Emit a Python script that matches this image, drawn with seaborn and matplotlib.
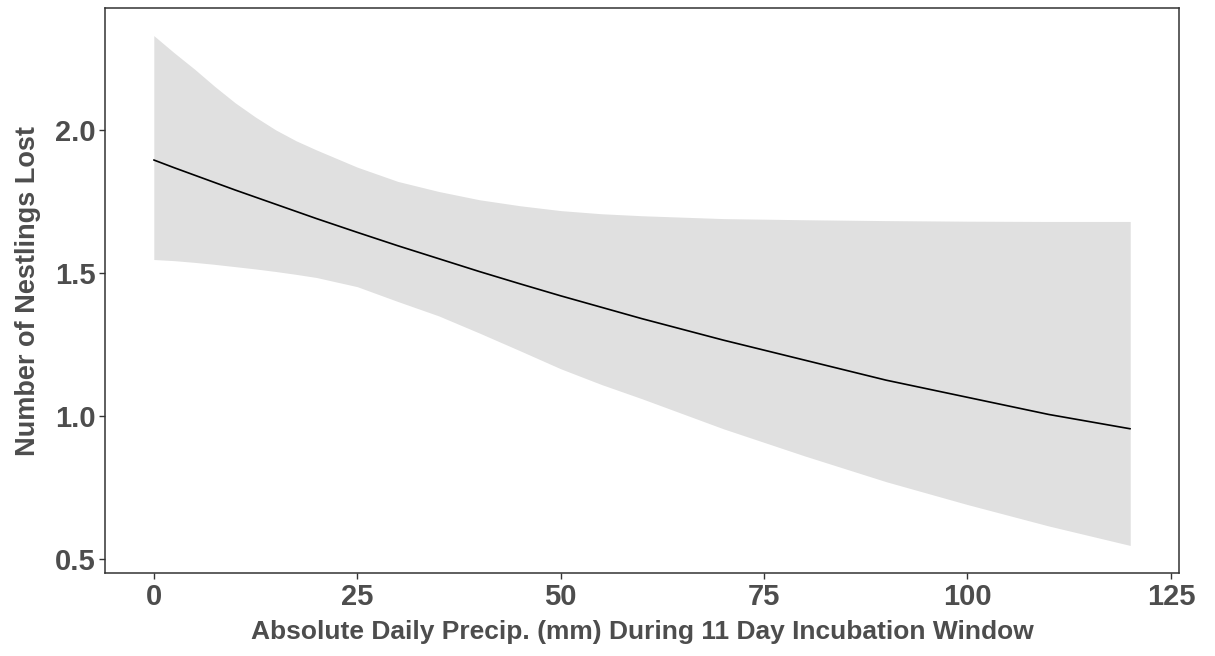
import matplotlib
matplotlib.use("Agg")
import matplotlib.pyplot as plt
import seaborn as sns
import pandas as pd

# Data
precip = [0, 2.5, 5, 7.5, 10, 12.5, 15, 17.5, 20, 25, 30, 35, 40, 45, 50, 55, 60, 70, 80, 90, 100, 110, 120]
fit = [1.895, 1.868, 1.842, 1.816, 1.790, 1.765, 1.740, 1.715, 1.690, 1.642, 1.595, 1.550, 1.505, 1.462,
       1.420, 1.380, 1.340, 1.265, 1.195, 1.125, 1.065, 1.005, 0.955]
upper = [2.330, 2.270, 2.213, 2.152, 2.095, 2.045, 2.000, 1.962, 1.930, 1.870, 1.820, 1.785, 1.756, 1.735,
         1.718, 1.707, 1.700, 1.690, 1.686, 1.683, 1.681, 1.680, 1.680]
lower = [1.547, 1.543, 1.537, 1.530, 1.522, 1.514, 1.505, 1.495, 1.484, 1.452, 1.400, 1.350, 1.290, 1.228,
         1.165, 1.110, 1.060, 0.955, 0.860, 0.770, 0.690, 0.615, 0.547]

x_ticks = [0, 25, 50, 75, 100, 125]
y_ticks = [0.5, 1.0, 1.5, 2.0]
x_label = "Absolute Daily Precip. (mm) During 11 Day Incubation Window"
y_label = "Number of Nestlings Lost"

df = pd.DataFrame({"precip": precip, "fit": fit, "upper": upper, "lower": lower})

sns.set_style("white")
plt.rcParams["font.family"] = ["Liberation Sans", "DejaVu Sans"]
plt.rcParams["font.weight"] = "bold"

fig = plt.figure(figsize=(12.15, 6.56), dpi=100)
ax = fig.add_axes([0.0864, 0.1265, 0.884, 0.8613])

ax.fill_between(df["precip"], df["lower"], df["upper"], color="#e0e0e0", linewidth=0, zorder=1)
sns.lineplot(data=df, x="precip", y="fit", ax=ax, color="black", linewidth=1.2, zorder=2)

ax.set_xlim(-6, 126)
ax.set_ylim(0.4506, 2.4265)
ax.set_xticks(x_ticks)
ax.set_yticks(y_ticks)
ax.set_xticklabels([str(t) for t in x_ticks])
ax.set_yticklabels([f"{t:.1f}" for t in y_ticks])

txt = "#4d4d4d"
ax.tick_params(axis="both", which="major", bottom=True, left=True, length=4, width=1,
               color="#333333", labelsize=21, labelcolor=txt, pad=3, direction="out")
for lab in ax.get_xticklabels() + ax.get_yticklabels():
    lab.set_fontweight("bold")

ax.set_xlabel(x_label, fontsize=19, fontweight="bold", color=txt, labelpad=7)
ax.set_ylabel(y_label, fontsize=19.5, fontweight="bold", color=txt, labelpad=10)

for s in ax.spines.values():
    s.set_visible(True)
    s.set_color("#333333")
    s.set_linewidth(1.1)

ax.grid(False)
fig.savefig("out.png", dpi=100)
